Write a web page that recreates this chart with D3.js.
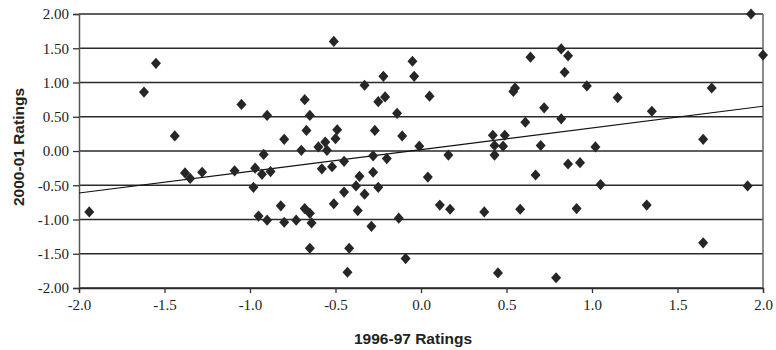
<!DOCTYPE html>
<html>
<head>
<meta charset="utf-8">
<script src="https://cdn.jsdelivr.net/npm/d3@7"></script>
<style>
  html, body { margin: 0; padding: 0; background: #fff; }
  svg { display: block; }
</style>
</head>
<body>
<svg id="chart" width="776" height="350"></svg>
<script>
// Ratings in 1996-97 (x) against ratings in 2000-01 (y)
const ratings1996 = [
  -1.94, -1.62, -1.55, -1.44, -1.38, -1.35, -1.28, -1.09, -1.05, -0.98,
  -0.97, -0.95, -0.93, -0.92, -0.90, -0.90, -0.88, -0.82, -0.80, -0.80,
  -0.73, -0.70, -0.68, -0.68, -0.67, -0.65, -0.65, -0.65, -0.64, -0.60,
  -0.58, -0.56, -0.55, -0.52, -0.51, -0.51, -0.49, -0.50, -0.45, -0.45,
  -0.43, -0.42, -0.38, -0.37, -0.36, -0.33, -0.33, -0.29, -0.28, -0.28,
  -0.27, -0.25, -0.25, -0.22, -0.21, -0.20, -0.14, -0.13, -0.11, -0.09,
  -0.05, -0.04, -0.01, 0.04, 0.05, 0.11, 0.16, 0.17, 0.37, 0.42,
  0.43, 0.43, 0.45, 0.48, 0.49, 0.54, 0.55, 0.58, 0.61, 0.64,
  0.67, 0.70, 0.72, 0.79, 0.82, 0.82, 0.84, 0.86, 0.86, 0.91,
  0.93, 0.97, 1.02, 1.05, 1.15, 1.32, 1.35, 1.65, 1.65, 1.70,
  1.91, 1.93, 2.00
];
const ratings2000 = [
  -0.89, 0.86, 1.28, 0.22, -0.32, -0.40, -0.31, -0.29, 0.68, -0.53,
  -0.25, -0.95, -0.34, -0.05, 0.52, -1.01, -0.30, -0.80, 0.17, -1.04,
  -1.01, 0.01, 0.75, -0.84, 0.30, 0.52, -0.91, -1.42, -1.05, 0.06,
  -0.26, 0.13, 0.01, -0.23, 1.60, -0.77, 0.31, 0.18, -0.15, -0.60,
  -1.77, -1.42, -0.51, -0.87, -0.37, 0.96, -0.63, -1.10, -0.07, -0.31,
  0.30, 0.72, -0.53, 1.09, 0.79, -0.11, 0.55, -0.98, 0.22, -1.57,
  1.31, 1.09, 0.07, -0.38, 0.80, -0.79, -0.06, -0.85, -0.89, 0.23,
  0.08, -0.06, -1.78, 0.07, 0.23, 0.87, 0.92, -0.85, 0.42, 1.37,
  -0.35, 0.08, 0.63, -1.85, 1.49, 0.47, 1.15, 1.39, -0.19, -0.84,
  -0.17, 0.95, 0.06, -0.49, 0.78, -0.79, 0.58, 0.17, -1.34, 0.92,
  -0.51, 2.00, 1.40
];

// Tick values
const xTicks = [-2.0, -1.5, -1.0, -0.5, 0.0, 0.5, 1.0, 1.5, 2.0];
const yTicks = [-2.0, -1.5, -1.0, -0.5, 0.0, 0.5, 1.0, 1.5, 2.0];

// Linear trend line: y = intercept + slope * x
const trendIntercept = 0.02;
const trendSlope = 0.3165;

const xTitle = "1996-97 Ratings";
const yTitle = "2000-01 Ratings";

const svg = d3.select("#chart");
const plot = { left: 79, right: 763, top: 14, bottom: 288 };

const x = d3.scaleLinear().domain([-2, 2]).range([plot.left, plot.right]);
const y = d3.scaleLinear().domain([-2, 2]).range([plot.bottom, plot.top]);

// Tick labels use a plain hyphen for negatives
const fmt = spec => { const f = d3.format(spec); return d => f(d).replace("\u2212", "-"); };

const tickFont = "'Liberation Serif', 'Times New Roman', serif";
const titleFont = "'Liberation Sans', Arial, sans-serif";

// Horizontal gridlines
svg.append("g")
  .selectAll("line")
  .data(yTicks)
  .join("line")
  .attr("x1", plot.left)
  .attr("x2", plot.right)
  .attr("y1", d => y(d))
  .attr("y2", d => y(d))
  .attr("stroke", "#2a2a2a")
  .attr("stroke-width", 1.3);

// Right border of plot area
svg.append("line")
  .attr("x1", plot.right).attr("x2", plot.right)
  .attr("y1", plot.top).attr("y2", plot.bottom)
  .attr("stroke", "#666").attr("stroke-width", 1.5);

// Y axis
const yAxis = svg.append("g")
  .attr("transform", `translate(${plot.left},0)`)
  .call(d3.axisLeft(y).tickValues(yTicks).tickFormat(fmt(".2f")).tickSize(6).tickPadding(4));
yAxis.select(".domain").attr("stroke", "#555").attr("stroke-width", 1.5);
yAxis.selectAll(".tick line").attr("stroke", "#333").attr("stroke-width", 1.3);
yAxis.selectAll(".tick text")
  .attr("font-family", tickFont)
  .attr("font-size", "15px")
  .attr("fill", "#222");

// X axis
const xAxis = svg.append("g")
  .attr("transform", `translate(0,${plot.bottom})`)
  .call(d3.axisBottom(x).tickValues(xTicks).tickFormat(fmt(".1f")).tickSize(5).tickPadding(6));
xAxis.select(".domain").attr("stroke", "#2a2a2a").attr("stroke-width", 1.3);
xAxis.selectAll(".tick line").attr("stroke", "#333").attr("stroke-width", 1.3);
xAxis.selectAll(".tick text")
  .attr("font-family", tickFont)
  .attr("font-size", "15px")
  .attr("fill", "#222");

// Trend line across the full x domain
const trend = x.domain().map(v => [v, trendIntercept + trendSlope * v]);
svg.append("path")
  .datum(trend)
  .attr("fill", "none")
  .attr("stroke", "#111")
  .attr("stroke-width", 1.2)
  .attr("d", d3.line().x(d => x(d[0])).y(d => y(d[1])));

// Diamond markers
const points = ratings1996.map((v, i) => [v, ratings2000[i]]);
const diamond = "M0,-5.6L5,0L0,5.6L-5,0Z";
svg.append("g")
  .selectAll("path")
  .data(points)
  .join("path")
  .attr("d", diamond)
  .attr("transform", d => `translate(${x(d[0])},${y(d[1])})`)
  .attr("fill", "#262626");

// Axis titles
svg.append("text")
  .attr("x", 413)
  .attr("y", 344)
  .attr("text-anchor", "middle")
  .attr("font-family", titleFont)
  .attr("font-weight", "bold")
  .attr("font-size", "15.5px")
  .attr("fill", "#222")
  .text(xTitle);

svg.append("text")
  .attr("transform", "translate(24,147) rotate(-90)")
  .attr("text-anchor", "middle")
  .attr("font-family", titleFont)
  .attr("font-weight", "bold")
  .attr("font-size", "15.5px")
  .attr("fill", "#222")
  .text(yTitle);
</script>
</body>
</html>
